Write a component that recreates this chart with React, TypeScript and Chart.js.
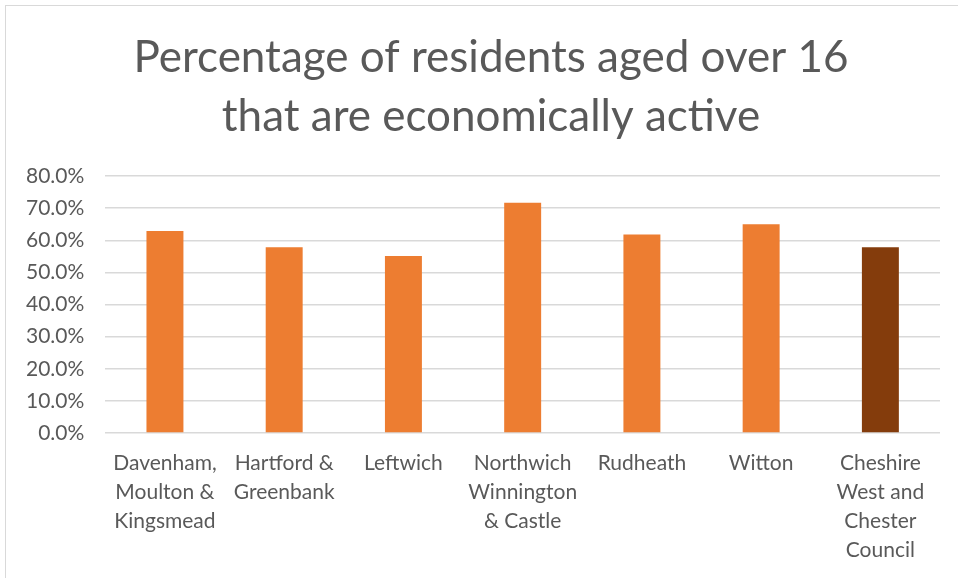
import React, { useEffect, useRef } from "react";
import { Chart, registerables } from "chart.js";

Chart.register(...registerables);

const titleLines = ["Percentage of residents aged over 16", "that are economically active"];
const categories: string[][] = [
  ["Davenham,", "Moulton &", "Kingsmead"],
  ["Hartford &", "Greenbank"],
  ["Leftwich"],
  ["Northwich", "Winnington", "& Castle"],
  ["Rudheath"],
  ["Witton"],
  ["Cheshire", "West and", "Chester", "Council"],
];
const values = [62.9, 57.8, 55.1, 71.7, 61.8, 65.0, 57.8];
const barColors = ["#ED7D31", "#ED7D31", "#ED7D31", "#ED7D31", "#ED7D31", "#ED7D31", "#843C0C"];
const yMin = 0;
const yMax = 80;
const yStep = 10;

const FONT = "Lato, 'Open Sans', sans-serif";
const TEXT = "#595959";

const titlePlugin = {
  id: "offsetTitle",
  afterDraw(chart: any) {
    const ctx = chart.ctx;
    ctx.save();
    ctx.fillStyle = TEXT;
    ctx.font = `44px ${FONT}`;
    ctx.textAlign = "center";
    ctx.textBaseline = "middle";
    titleLines.forEach((line, i) => ctx.fillText(line, 491, 58 + i * 59));
    ctx.restore();
  },
};

export default function App() {
  const ref = useRef<HTMLCanvasElement>(null);
  useEffect(() => {
    if (!ref.current) return;
    const chart = new Chart(ref.current, {
      type: "bar",
      data: {
        labels: categories,
        datasets: [
          {
            data: values,
            backgroundColor: barColors,
            borderWidth: 0,
            categoryPercentage: 1,
            barPercentage: 0.31,
          },
        ],
      },
      options: {
        responsive: false,
        animation: false,
        layout: { padding: { left: 5, right: 18, top: 176, bottom: 0 } },
        plugins: {
          legend: { display: false },
          tooltip: { enabled: false },
          title: { display: false },
        },
        scales: {
          x: {
            grid: { display: false, drawTicks: false },
            border: { display: false },
            ticks: {
              color: TEXT,
              font: { family: FONT, size: 21, lineHeight: 1.38 },
              maxRotation: 0,
              autoSkip: false,
              padding: 16,
            },
          },
          y: {
            min: yMin,
            max: yMax,
            grid: { color: "#d9d9d9", lineWidth: 1.5, drawTicks: false },
            border: { display: false },
            ticks: {
              stepSize: yStep,
              color: TEXT,
              font: { family: FONT, size: 21 },
              padding: 21,
              callback: (v: any) => Number(v).toFixed(1) + "%",
            },
          },
        },
      },
      plugins: [titlePlugin],
    });
    return () => chart.destroy();
  }, []);
  return (
    <div style={{ position: "absolute", left: 0, top: 0, width: 958, height: 578, overflow: "hidden", background: "#fff" }}>
      <div style={{ position: "absolute", left: 5, top: 5, width: 1000, height: 700, border: "1px solid #d9d9d9", boxSizing: "border-box" }} />
      <canvas ref={ref} width={958} height={581} style={{ position: "absolute", left: 0, top: 0 }} />
    </div>
  );
}
